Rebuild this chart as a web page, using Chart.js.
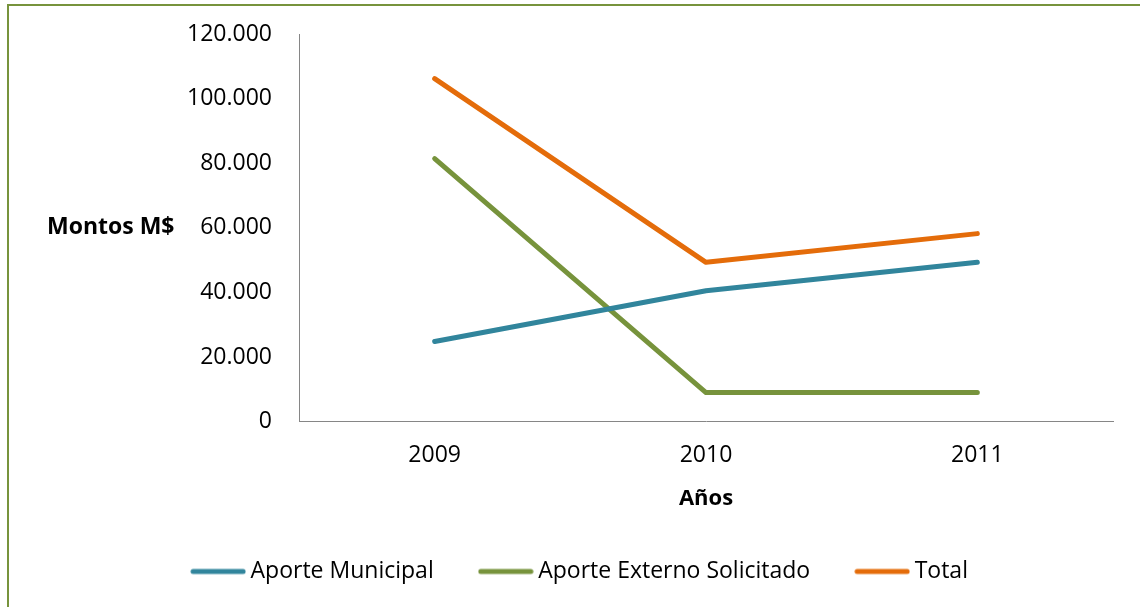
<!DOCTYPE html>
<html>
<head>
<meta charset="utf-8">
<script src="https://cdn.jsdelivr.net/npm/chart.js@4"></script>
<style>
  body { margin: 0; background: #fff; }
  #marco { position: absolute; left: 7px; top: 4px; width: 1140px; height: 620px; border: 2px solid #77933C; }
  #wrap { position: absolute; left: 0; top: 0; width: 1140px; height: 607px; }
</style>
</head>
<body>
<div id="marco"></div>
<div id="wrap"><canvas id="myChart" width="1140" height="607"></canvas></div>
<script>
var anios = ['2009', '2010', '2011'];
var aporteMunicipal = [24800, 40500, 49300];
var aporteExterno = [81400, 9000, 9000];
var total = [106200, 49300, 58200];
var tituloY = 'Montos M$';
var tituloX = 'Años';
var colores = ['#31859C', '#77933C', '#E46C0A'];

var fuente = "'Open Sans', 'Noto Sans', sans-serif";

// linea gruesa con puntas redondas para la leyenda
function muestraLinea(color) {
  var c = document.createElement('canvas');
  c.width = 56;
  c.height = 8;
  var g = c.getContext('2d');
  g.strokeStyle = color;
  g.lineWidth = 5;
  g.lineCap = 'round';
  g.beginPath();
  g.moveTo(3, 4);
  g.lineTo(53, 4);
  g.stroke();
  return c;
}

// titulo horizontal del eje Y (Chart.js solo lo dibuja rotado)
var tituloHorizontal = {
  id: 'tituloHorizontal',
  afterLayout: function (chart) {
    chart.legend.left += 26;
    chart.legend.right += 26;
  },
  afterDraw: function (chart) {
    var ctx = chart.ctx;
    var y = chart.scales.y;
    ctx.save();
    ctx.font = 'bold 23px ' + fuente;
    ctx.fillStyle = '#000';
    ctx.textAlign = 'left';
    ctx.textBaseline = 'middle';
    ctx.fillText(tituloY, 47, y.getPixelForValue(60000));
    ctx.restore();
  }
};

var ctx = document.getElementById('myChart').getContext('2d');
var myChart = new Chart(ctx, {
  type: 'line',
  data: {
    labels: anios,
    datasets: [
      { label: 'Aporte Municipal', data: aporteMunicipal, borderColor: colores[0], backgroundColor: colores[0], pointStyle: muestraLinea(colores[0]) },
      { label: 'Aporte Externo Solicitado', data: aporteExterno, borderColor: colores[1], backgroundColor: colores[1], pointStyle: muestraLinea(colores[1]) },
      { label: 'Total', data: total, borderColor: colores[2], backgroundColor: colores[2], pointStyle: muestraLinea(colores[2]) }
    ]
  },
  options: {
    responsive: false,
    animation: false,
    layout: { padding: { left: 0, right: 27, top: 34, bottom: 14 } },
    elements: {
      line: { borderWidth: 5, borderCapStyle: 'round', borderJoinStyle: 'round', tension: 0 },
      point: { radius: 0, hoverRadius: 0 }
    },
    scales: {
      x: {
        offset: true,
        grid: { display: false, drawTicks: false },
        border: { color: '#868686', width: 1 },
        ticks: { color: '#000', padding: 20, font: { family: fuente, size: 23 } },
        title: { display: true, text: tituloX, color: '#000', padding: { top: 0, bottom: 0 }, font: { family: fuente, size: 22, weight: 'bold', lineHeight: 0.9 } }
      },
      y: {
        min: 0,
        max: 120000,
        afterFit: function (s) { s.width = 299; s.paddingTop = 0; s.paddingBottom = 0; },
        grid: { display: false, drawTicks: false },
        border: { color: '#868686', width: 1 },
        ticks: {
          stepSize: 20000,
          color: '#000',
          padding: 27,
          font: { family: fuente, size: 23 },
          callback: function (v) { return v.toLocaleString('de-DE'); }
        }
      }
    },
    plugins: {
      tooltip: { enabled: false },
      legend: {
        position: 'bottom',
        labels: {
          usePointStyle: true,
          pointStyleWidth: 42,
          padding: 51,
          color: '#000',
          font: { family: fuente, size: 23 }
        }
      }
    }
  },
  plugins: [tituloHorizontal]
});
</script>
</body>
</html>
